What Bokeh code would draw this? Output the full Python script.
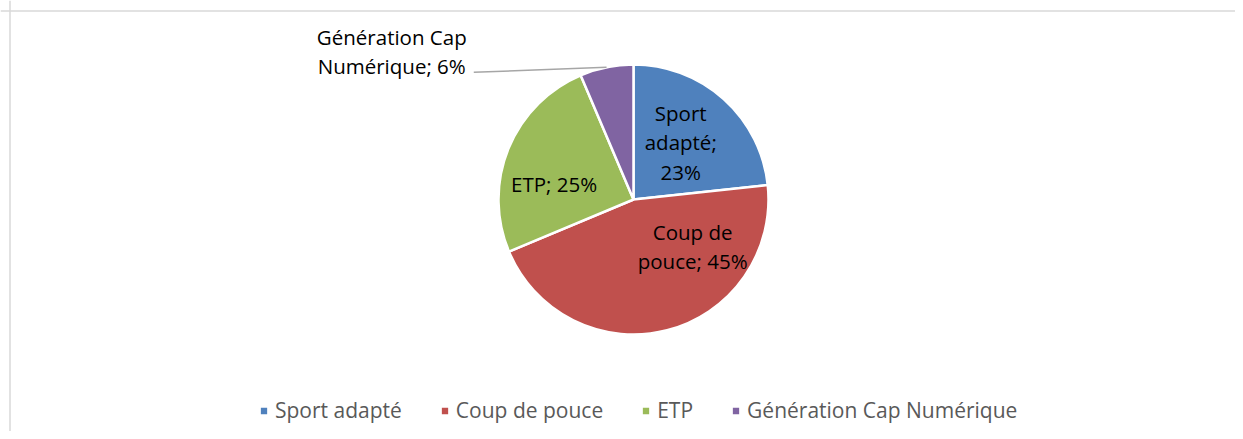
import math
import textwrap
from bokeh.plotting import figure
from bokeh.models import Range1d, Span, Legend, LegendItem
from bokeh.core.properties import value
from bokeh.embed import file_html
from bokeh.resources import INLINE

# ---- data ----
categories = ["Sport adapté", "Coup de pouce", "ETP", "Génération Cap Numérique"]
shares = [23.3, 45.4, 24.9, 6.4]
colors = ["#4F81BD", "#C0504D", "#9BBB59", "#8064A2"]

# ---- label layout (style) ----
wrap_widths = [7, 10, 20, 14]
label_angle_deg = [39.5, 128.5, 281.3, 301.5]   # clockwise from 12 o'clock
label_radius_frac = [0.55, 0.56, 0.60, 2.10]
outside = [False, False, False, True]

W, H = 1235, 431
CX, CY, R = 633, 232, 135
FONT = "Open Sans"

p = figure(width=W, height=H, output_backend="svg", toolbar_location=None,
           x_range=Range1d(0, W), y_range=Range1d(0, H), min_border=0,
           outline_line_color=None)
p.axis.visible = False
p.grid.visible = False
p.background_fill_color = "white"
p.border_fill_color = "white"

# chart area border (left and top edges visible)
p.add_layout(Span(location=9.5, dimension="height", line_color="#D9D9D9", line_width=1.5))
p.add_layout(Span(location=H - 10.5, dimension="width", line_color="#D9D9D9", line_width=1.5))

total = sum(shares)
starts, ends, mids = [], [], []
cum = 0.0
for s in shares:
    f0 = cum / total
    cum += s
    f1 = cum / total
    starts.append(math.pi / 2 - 2 * math.pi * f0)
    ends.append(math.pi / 2 - 2 * math.pi * f1)
    mids.append((f0 + f1) / 2 * 360)

wedges = []
for i in range(len(categories)):
    r = p.wedge(x=CX, y=CY, radius=R, start_angle=starts[i], end_angle=ends[i],
                direction="clock", fill_color=colors[i], line_color="white", line_width=2.5)
    wedges.append(r)

# data labels
pct = [round(s / total * 100) for s in shares]
for i, cat in enumerate(categories):
    txt = "\n".join(textwrap.wrap(f"{cat}; {pct[i]}%", width=wrap_widths[i]))
    a = math.radians(label_angle_deg[i])
    rr = R * label_radius_frac[i]
    lx = CX + rr * math.sin(a)
    ly = CY + rr * math.cos(a)
    p.text(x=[lx], y=[ly], text=[txt], text_align="center", text_baseline="middle",
           text_font=value(FONT), text_font_size="20.5px", text_color="black",
           text_line_height=1.05)
    if outside[i]:
        m = math.radians(mids[i])
        ex = CX + R * math.sin(m)
        ey = CY + R * math.cos(m)
        p.line(x=[lx + 82, ex], y=[ly - 21, ey], line_color="#A6A6A6", line_width=1.5)

legend = Legend(items=[LegendItem(label=c, renderers=[w]) for c, w in zip(categories, wedges)],
                orientation="horizontal", location=(258, 7),
                label_text_font=FONT, label_text_font_size="21px",
                label_text_color="#595959", glyph_width=11, glyph_height=11,
                label_standoff=6, spacing=37, padding=0, margin=0,
                border_line_color=None, background_fill_alpha=0)
p.add_layout(legend, "center")

open("out.html", "w").write(file_html(p, INLINE))
